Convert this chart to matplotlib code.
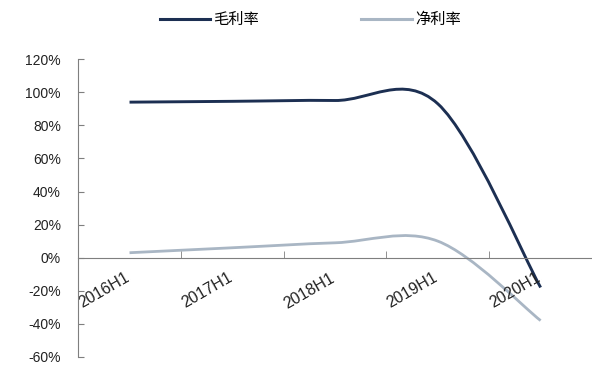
import matplotlib
matplotlib.use("Agg")
import matplotlib.pyplot as plt
import matplotlib.transforms as mtransforms
from matplotlib.path import Path
from matplotlib.patches import PathPatch
from matplotlib.lines import Line2D

plt.rcParams['font.family'] = ['Liberation Sans', 'Noto Sans CJK SC', 'DejaVu Sans']

# data (percent)
periods = ['2016H1', '2017H1', '2018H1', '2019H1', '2020H1']
gross_margin = [94, 94.5, 95, 93, -18]
net_margin = [3, 6, 9, 10, -38]
series_names = ['毛利率', '净利率']

dark = '#1c2f52'
light = '#a9b6c4'
axis_gray = '#7f7f7f'


def smooth_path(xs, ys):
    # Excel-style smoothed line: Catmull-Rom segments as cubic Beziers
    pts = list(zip(xs, ys))
    n = len(pts)
    verts = [pts[0]]
    codes = [Path.MOVETO]
    for i in range(n - 1):
        p0 = pts[max(i - 1, 0)]
        p1 = pts[i]
        p2 = pts[i + 1]
        p3 = pts[min(i + 2, n - 1)]
        c1 = (p1[0] + (p2[0] - p0[0]) / 6, p1[1] + (p2[1] - p0[1]) / 6)
        c2 = (p2[0] - (p3[0] - p1[0]) / 6, p2[1] - (p3[1] - p1[1]) / 6)
        verts += [c1, c2, p2]
        codes += [Path.CURVE4] * 3
    return Path(verts, codes)


fig = plt.figure(figsize=(5.92, 3.65), dpi=100)
ax = fig.add_axes([0.132, 0.022, 0.868, 0.816])

x = list(range(len(periods)))
ax.add_patch(PathPatch(smooth_path(x, net_margin), facecolor='none',
                       edgecolor=light, lw=2.0, capstyle='butt'))
ax.add_patch(PathPatch(smooth_path(x, gross_margin), facecolor='none',
                       edgecolor=dark, lw=2.1, capstyle='butt'))

ax.set_xlim(-0.5, len(periods) - 0.5)
ax.set_ylim(-60, 120)

# spines
for s in ['top', 'right']:
    ax.spines[s].set_visible(False)
ax.spines['left'].set_color(axis_gray)
ax.spines['bottom'].set_color(axis_gray)
ax.spines['bottom'].set_position(('data', 0))

# y axis
yt = list(range(-60, 121, 20))
ax.set_yticks(yt)
ax.set_yticklabels([f'{v}%' for v in yt])
ax.tick_params(axis='y', direction='in', length=4, color=axis_gray,
               labelsize=10, pad=12.5, labelcolor='#222222')

# x axis: labels at category centres, tick marks at boundaries
ax.set_xticks(x)
ax.set_xticklabels(periods, rotation=30, ha='right', va='top',
                   rotation_mode='anchor')
ax.set_xticks([i + 0.5 for i in x[:-1]], minor=True)
ax.tick_params(axis='x', which='major', length=0, labelsize=11.5, pad=9,
               labelcolor='#222222')
ax.tick_params(axis='x', which='minor', direction='in', length=5,
               color=axis_gray)
shift = mtransforms.ScaledTranslation(-5 / 100, 0, fig.dpi_scale_trans)
for lbl in ax.get_xticklabels():
    lbl.set_transform(lbl.get_transform() + shift)

handles = [Line2D([], [], color=dark, lw=2.2),
           Line2D([], [], color=light, lw=2.2)]
fig.legend(handles, series_names, loc='center', bbox_to_anchor=(0.524, 0.945),
           ncol=2, frameon=False, fontsize=11, handlelength=3.3,
           handletextpad=0.2, columnspacing=6.7)

fig.savefig('out.png', dpi=100)
